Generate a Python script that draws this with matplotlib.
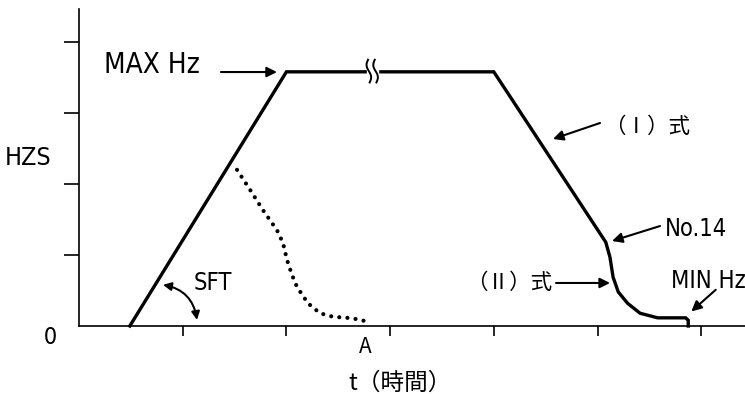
import matplotlib.pyplot as plt
import numpy as np

# Main frequency profile (trapezoid + tail of the (II) curve)
main_x = [0.49, 2.0, 4.0, 5.08, 5.12, 5.15, 5.20, 5.29, 5.41, 5.58, 5.85, 5.875, 5.875]
main_y = [0.0, 3.58, 3.58, 1.18, 0.97, 0.69, 0.48, 0.32, 0.18, 0.115, 0.115, 0.08, 0.0]

# Dotted deceleration curve ending at A
dot_x = [1.524, 1.649, 1.775, 1.909, 1.967, 2.006, 2.054, 2.102, 2.208, 2.324, 2.449, 2.633, 2.758]
dot_y = [2.20, 1.92, 1.63, 1.35, 1.17, 0.93, 0.72, 0.55, 0.32, 0.18, 0.13, 0.11, 0.07]

x_ticks = [1, 2, 3, 4, 5, 6]
y_ticks = [1, 2, 3, 4]

latin = ['DejaVu Sans', 'Noto Sans CJK JP']
cjk = ['Noto Sans CJK JP', 'DejaVu Sans']
st = 'condensed'

fig = plt.figure(figsize=(7.45, 3.94), dpi=100)
ax = fig.add_axes([79 / 745, 68 / 394, 666 / 745, 317 / 394])
ax.set_xlim(0, 666 / 103.7)
ax.set_ylim(0, 317 / 71)

for s in ['top', 'right']:
    ax.spines[s].set_visible(False)
for s in ['left', 'bottom']:
    ax.spines[s].set_linewidth(1.2)

ax.set_xticks(x_ticks)
ax.set_yticks(y_ticks)
ax.set_xticklabels([])
ax.set_yticklabels([])
ax.tick_params(axis='x', direction='out', length=7.5, width=1.2)
ax.tick_params(axis='y', direction='out', length=11, width=1.2)

ax.plot(main_x, main_y, color='black', lw=2.4, solid_joinstyle='miter', clip_on=False)
ax.plot(dot_x, dot_y, color='black', lw=3.0, linestyle=(0, (0.01, 1.95)),
        dash_capstyle='round')

# break mark on the plateau
xb0, xb1 = 2.777, 2.883
ax.fill_between([xb0, xb1], 3.50, 3.66, color='white', zorder=3)
yy = np.linspace(3.43, 3.75, 40)
for xc in [2.795, 2.86]:
    xx = xc + 0.018 * np.sin(2 * np.pi * (yy - 3.43) / 0.32) - 0.05 * (yy - 3.59)
    ax.plot(xx, yy, color='black', lw=1.4, zorder=4)

arrow = dict(arrowstyle='-|>', color='black', lw=1.5, mutation_scale=15,
             shrinkA=0, shrinkB=0)

ax.annotate('', xy=(1.909, 3.577), xytext=(1.369, 3.577), arrowprops=arrow)
ax.text(0.70, 3.67, 'MAX Hz', family=latin, fontstretch=st, fontsize=20,
        ha='center', va='center')

ax.annotate('', xy=(4.571, 2.634), xytext=(5.024, 2.859), arrowprops=arrow)
ax.text(5.48, 2.80, '（Ⅰ）式', family=cjk, fontsize=15.5, ha='center', va='center')

ax.annotate('', xy=(5.14, 1.197), xytext=(5.603, 1.408), arrowprops=arrow)
ax.text(5.95, 1.366, 'No.14', family=latin, fontstretch=st, fontsize=17,
        ha='center', va='center')

ax.annotate('', xy=(5.121, 0.606), xytext=(4.60, 0.606), arrowprops=arrow)
ax.text(4.56, 0.606, '（Ⅱ）式', family=cjk, fontsize=15.5, ha='right', va='center')

ax.annotate('', xy=(5.905, 0.205), xytext=(6.14, 0.51), arrowprops=arrow)
ax.text(6.07, 0.64, 'MIN Hz', family=latin, fontstretch=st, fontsize=17, ha='center',
        va='center', clip_on=False)

ax.annotate('', xy=(1.138, 0.085), xytext=(0.81, 0.58),
            arrowprops=dict(arrowstyle='<|-|>', color='black', lw=1.5, mutation_scale=12,
                            shrinkA=0, shrinkB=0, connectionstyle='arc3,rad=-0.35'))
ax.text(1.292, 0.606, 'SFT', family=latin, fontstretch=st, fontsize=17,
        ha='center', va='center')

ax.text(-0.49, 2.37, 'HZS', family=latin, fontstretch=st, fontsize=18, ha='center',
        va='center', clip_on=False)
ax.text(-0.28, -0.155, '0', family=cjk, fontsize=17, ha='center', va='center', clip_on=False)
ax.text(2.758, -0.30, 'A', family=cjk, fontsize=15, ha='center', va='center', clip_on=False)
ax.text(3.10, -0.80, 't（時間）', family=cjk, fontsize=17, ha='center', va='center',
        clip_on=False)

fig.savefig('out.png', dpi=100)
